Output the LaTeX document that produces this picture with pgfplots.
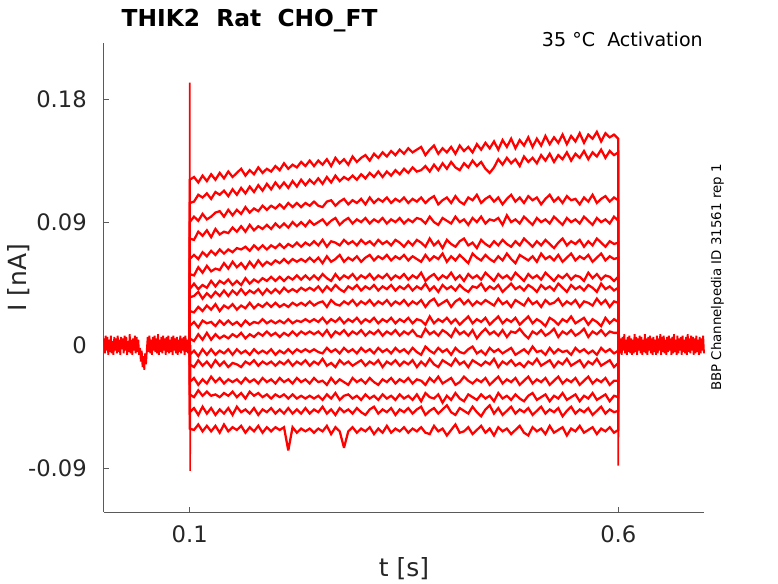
\documentclass[border=0pt]{standalone}
\usepackage{pgfplots}
\pgfplotsset{compat=1.18}
\usepackage{pgfplotstable}
\usepackage{fontspec}
\setmainfont{DejaVu Sans}
\definecolor{axgray}{RGB}{90,90,90}
\definecolor{txt}{RGB}{38,38,38}
\tikzset{tr/.style={red, line width=1.7pt, mark=none, line join=miter, miter limit=3}}

\pgfplotstableread{
t c1 c2 c3 c4 c5 c6 c7 c8 c9 c10 c11 c12 c13 c14 c15 c16 c17
100 0 0 0 0 0 0 0 0 0 0 0 0 0 0 0 0 0
100 121 104 90 78 63 52 41 35 25 14 5 -7 -14 -27 -36 -49 -61
105 123 105 94 77 66 51 45 36 24 17 3 -4 -16 -24 -38 -46 -62
110 119 110 91 83 63 57 41 39 28 13 8 -8 -11 -29 -33 -51 -58
115 124 108 96 80 68 53 44 34 25 18 4 -3 -15 -25 -37 -45 -63
120 120 111 92 84 65 58 42 38 29 16 9 -7 -12 -28 -34 -50 -59
125 125 107 94 79 69 54 47 35 26 17 4 -3 -16 -23 -37 -46 -63
130 121 112 97 85 66 56 43 39 30 14 8 -7 -11 -27 -36 -51 -59
135 126 110 98 81 70 55 47 36 25 18 5 -4 -15 -24 -38 -47 -64
140 122 113 94 83 67 60 45 40 29 15 7 -6 -12 -28 -35 -50 -58
145 127 109 99 82 70 56 48 36 27 18 5 -3 -16 -25 -37 -46 -63
150 123 114 95 86 68 61 44 40 30 15 8 -7 -13 -27 -34 -51 -60
155 126 110 99 83 71 57 47 37 26 17 6 -3 -14 -25 -38 -45 -62
160 129 115 96 87 70 60 44 41 29 14 9 -6 -16 -28 -35 -49 -59
165 124 111 101 83 72 56 49 37 27 18 5 -4 -12 -24 -39 -47 -64
170 128 116 97 88 69 61 45 40 31 15 8 -7 -14 -27 -34 -50 -60
175 125 112 100 84 73 57 48 38 27 17 6 -3 -11 -25 -37 -46 -63
180 130 117 98 87 70 62 46 41 30 16 9 -6 -15 -28 -35 -51 -59
185 126 113 102 85 73 58 49 37 28 19 7 -4 -12 -24 -38 -47 -64
190 129 118 99 88 70 61 47 41 31 16 10 -6 -14 -27 -36 -49 -60
195 127 114 102 85 73 59 50 38 28 18 7 -3 -12 -25 -39 -46 -63
200 131 119 100 89 71 62 47 41 31 16 9 -7 -15 -28 -36 -50 -60
205 128 115 103 86 74 60 50 38 28 18 6 -4 -12 -24 -38 -47 -62
210 133 119 100 89 71 63 47 42 30 16 9 -6 -14 -27 -36 -50 -60
215 129 115 104 86 74 60 50 39 28 19 7 -3 -11 -25 -39 -46 -77
220 132 120 101 90 72 63 48 41 31 16 10 -6 -15 -28 -36 -50 -60
225 130 116 104 87 75 61 51 39 29 18 7 -3 -12 -24 -39 -47 -64
230 134 121 101 90 72 63 48 42 31 17 10 -5 -14 -27 -37 -50 -61
235 131 117 104 87 75 61 51 40 29 19 8 -3 -11 -25 -39 -46 -63
240 135 121 102 91 73 64 48 42 32 17 10 -5 -15 -28 -37 -50 -61
245 131 118 105 88 76 61 51 40 29 19 8 -3 -12 -24 -39 -47 -64
250 135 122 102 90 73 64 48 43 31 17 10 -5 -14 -27 -37 -49 -61
255 132 118 101 92 77 60 52 39 32 20 7 -6 -10 -26 -40 -45 -63
260 136 123 105 88 72 65 49 43 28 16 11 -2 -15 -29 -36 -50 -59
265 131 119 106 91 76 61 47 40 33 19 6 -5 -13 -24 -39 -47 -65
270 137 124 102 93 75 63 52 44 30 17 10 -3 -16 -28 -35 -51 -60
275 133 120 105 88 73 66 48 41 29 20 8 -6 -11 -25 -40 -46 -63
280 136 123 107 91 77 61 51 39 32 16 11 -2 -14 -27 -37 -49 -75
285 132 121 103 93 74 64 49 43 30 19 7 -5 -12 -29 -36 -47 -63
290 138 124 106 89 76 62 52 41 33 17 10 -3 -15 -24 -39 -50 -60
295 134 121 104 92 73 65 48 44 29 20 8 -6 -13 -27 -37 -46 -64
300 137 125 107 90 77 61 51 40 32 16 11 -2 -11 -25 -40 -49 -61
305 139 122 103 93 74 64 49 43 30 19 7 -5 -15 -28 -36 -51 -63
310 135 126 108 89 76 66 52 41 33 17 10 -3 -12 -24 -39 -47 -60
315 140 123 104 92 73 62 48 44 29 20 8 -6 -14 -27 -37 -45 -65
320 137 127 107 90 77 65 51 40 32 16 11 -2 -11 -29 -40 -50 -61
325 141 123 105 93 74 63 49 43 30 19 7 -5 -16 -25 -36 -47 -64
330 138 127 108 89 76 66 52 41 33 17 10 -3 -12 -27 -39 -49 -59
335 142 124 104 92 73 62 48 44 29 20 8 -6 -14 -24 -37 -46 -64
340 139 128 107 90 77 65 51 40 32 16 11 -2 -11 -28 -40 -51 -61
345 143 125 105 93 75 63 49 43 30 19 7 -5 -15 -25 -36 -47 -63
350 140 129 108 89 72 66 52 41 33 17 10 -3 -12 -27 -39 -49 -60
355 144 126 104 92 76 62 48 44 29 20 8 -6 -14 -24 -37 -46 -64
360 141 130 107 90 73 65 51 40 32 16 11 -2 -11 -28 -40 -50 -61
365 143 127 105 93 77 63 49 43 30 19 7 -5 -16 -25 -36 -47 -63
370 145 128 108 92 75 61 53 41 33 18 6 -7 -12 -26 -41 -45 -60
375 139 131 104 89 72 66 47 45 28 15 12 -1 -15 -29 -35 -51 -64
380 143 127 107 94 78 62 50 40 32 21 8 -4 -10 -24 -38 -48 -65
385 146 132 109 90 73 65 52 43 34 16 10 -6 -14 -27 -39 -46 -59
390 140 128 103 88 76 63 48 39 29 19 7 -2 -16 -23 -36 -50 -63
395 144 133 106 93 71 67 51 44 31 17 11 -5 -11 -28 -42 -47 -61
400 141 129 108 91 77 61 49 41 33 20 9 -3 -13 -26 -37 -44 -66
405 145 134 104 89 74 65 53 43 28 16 6 -7 -15 -24 -40 -49 -62
410 140 130 109 94 72 62 48 40 32 19 12 -2 -10 -29 -35 -51 -58
415 146 128 105 90 76 66 51 44 34 15 8 -5 -14 -27 -39 -46 -64
420 142 133 103 92 78 63 47 41 30 18 10 -6 -12 -23 -41 -48 -63
425 145 130 108 88 73 60 52 39 33 21 7 -3 -16 -26 -36 -50 -60
430 141 135 106 93 75 67 49 43 29 16 11 -1 -11 -28 -38 -45 -65
435 147 131 110 90 71 64 51 42 32 19 5 -6 -13 -25 -40 -49 -62
440 143 134 104 94 77 62 48 45 30 17 9 -4 -15 -27 -36 -52 -59
445 148 129 107 89 74 66 53 40 33 20 12 -7 -12 -24 -39 -47 -64
450 144 126 109 92 72 63 50 43 31 15 8 -2 -14 -29 -37 -44 -61
455 149 130 105 91 76 61 47 41 29 18 10 -5 -10 -26 -41 -50 -66
460 143 136 108 93 73 65 52 44 34 21 7 -3 -16 -23 -35 -46 -60
465 150 132 103 88 77 62 49 39 30 16 11 -6 -12 -28 -39 -51 -63
470 145 137 107 95 74 67 51 42 32 19 6 -4 -14 -25 -37 -48 -61
475 151 133 110 90 72 63 48 45 28 17 10 -2 -11 -27 -40 -45 -65
480 144 136 105 92 76 60 53 41 33 20 9 -7 -15 -24 -36 -50 -62
485 150 131 108 89 73 66 50 43 31 15 12 -5 -13 -29 -39 -47 -59
490 146 138 104 94 78 64 47 40 29 18 8 -3 -16 -26 -41 -49 -64
495 152 134 109 91 75 62 52 44 34 21 5 -6 -12 -23 -37 -46 -66
500 145 137 106 88 72 65 49 42 30 16 10 -1 -14 -28 -35 -51 -60
505 151 133 108 93 76 61 51 39 32 19 8 -5 -10 -25 -40 -48 -63
510 146 139 103 90 73 67 48 44 28 17 11 -4 -15 -27 -38 -45 -61
515 153 135 107 92 77 63 53 41 33 14 7 -7 -13 -24 -36 -50 -65
520 147 140 110 89 74 65 50 43 30 20 9 -2 -11 -29 -41 -47 -59
525 152 134 105 94 71 62 47 40 31 18 12 -6 -16 -26 -37 -49 -64
530 148 139 108 91 75 66 51 45 34 15 6 -3 -12 -23 -39 -46 -62
535 154 136 104 88 78 61 49 42 29 19 10 -5 -14 -28 -35 -52 -60
540 147 141 109 93 73 64 52 39 32 17 8 -4 -10 -25 -40 -48 -66
545 153 135 106 90 76 67 48 44 30 21 11 -7 -15 -27 -38 -45 -61
550 149 140 107 92 74 62 51 41 33 16 7 -2 -13 -24 -36 -50 -63
555 155 137 103 89 77 65 50 43 28 18 9 -5 -11 -29 -41 -47 -59
560 148 142 108 94 72 63 47 40 32 20 12 -3 -16 -26 -37 -49 -64
565 154 136 105 91 76 66 53 44 31 15 6 -6 -12 -23 -39 -46 -62
570 151 141 110 88 73 61 49 42 29 19 10 -4 -14 -28 -35 -51 -60
575 156 138 104 93 78 64 52 39 34 17 8 -7 -10 -25 -40 -48 -65
580 149 143 107 90 75 67 48 45 30 14 11 -2 -15 -27 -38 -45 -61
585 155 137 109 92 72 62 51 41 33 20 7 -5 -13 -24 -36 -50 -63
590 152 142 105 89 76 65 50 43 28 16 10 -3 -11 -29 -41 -47 -60
595 154 139 108 94 74 63 47 40 32 19 9 -6 -16 -26 -37 -49 -64
600 151 141 106 91 75 64 50 42 31 17 9 -4 -13 -26 -38 -48 -62
600 0 0 0 0 0 0 0 0 0 0 0 0 0 0 0 0 0
}\traces

\pgfplotstableread{
t y
0 5
1 -6
2 7
3 -4
4 6
5 -7
6 4
7 -5
8 7
9 -6
10 3
11 -7
12 6
13 -4
14 5
15 -6
16 7
17 -5
18 4
19 -7
20 6
21 -3
22 5
23 -6
24 7
25 -4
26 6
27 -7
28 3
29 -5
30 8
31 -6
32 4
33 -7
34 5
35 -4
36 7
37 -6
38 6
39 -5
40 4
41 -7
42 -2
43 -12
44 -4
45 -16
46 -8
47 -18
48 -6
49 -14
50 -3
51 6
52 -5
53 7
54 -6
55 4
56 -7
57 6
58 -4
59 7
60 -5
61 5
62 -6
63 8
64 -7
65 4
66 -5
67 6
68 -6
69 7
70 -4
71 5
72 -7
73 6
74 -5
75 7
76 -6
77 4
78 -5
79 6
80 -7
81 7
82 -4
83 5
84 -6
85 6
86 -7
87 4
88 -5
89 7
90 -6
91 5
92 -4
93 6
94 -7
95 7
96 -5
97 4
98 -6
99 5
100 0
}\pre

\pgfplotstableread{
t y
600 0
601 7
602 -6
603 5
604 -7
605 6
606 -4
607 8
608 -6
609 4
610 -7
611 6
612 -5
613 7
614 -6
615 5
616 -7
617 4
618 -6
619 8
620 -5
621 6
622 -7
623 5
624 -4
625 7
626 -6
627 6
628 -7
629 4
630 -5
631 8
632 -6
633 5
634 -7
635 6
636 -4
637 7
638 -6
639 5
640 -7
641 6
642 -5
643 4
644 -7
645 7
646 -6
647 5
648 -4
649 8
650 -7
651 6
652 -5
653 7
654 -6
655 4
656 -7
657 6
658 -5
659 7
660 -4
661 5
662 -7
663 6
664 -6
665 8
666 -5
667 4
668 -7
669 7
670 -6
671 5
672 -4
673 6
674 -7
675 7
676 -5
677 4
678 -6
679 6
680 -7
681 8
682 -5
683 5
684 -6
685 7
686 -4
687 6
688 -7
689 5
690 -6
691 7
692 -5
693 4
694 -7
695 6
696 -6
697 5
698 -4
699 7
700 -6
}\post

\begin{document}
\begin{tikzpicture}
\begin{axis}[
  name=ax,
  at={(0,0)}, anchor=south west,
  scale only axis,
  width=450pt, height=351.75pt,
  xmin=0, xmax=700, ymin=-122, ymax=221,
  axis x line=bottom, axis y line=left,
  axis line style={-, draw=axgray, line width=0.75pt},
  tick align=inside,
  major tick length=4pt,
  tick style={draw=axgray, line width=0.75pt},
  xtick={100,600}, xticklabels={0.1,0.6},
  ytick={-90,0,90,180}, yticklabels={-0.09,0,0.09,0.18},
  minor tick num=0,
  ticklabel style={font=\fontsize{17}{20}\selectfont, text=txt},
  xticklabel style={anchor=north, inner sep=0pt, yshift=-9.75pt},
  yticklabel style={anchor=east, inner sep=0pt, xshift=-12.75pt},
  clip=false,
]
\addplot[tr, line width=1.4pt] table[x=t, y=y] {\pre};
\addplot[tr, line width=1.4pt] table[x=t, y=y] {\post};
\addplot[tr] table[x=t, y=c1] {\traces};
\addplot[tr] table[x=t, y=c2] {\traces};
\addplot[tr] table[x=t, y=c3] {\traces};
\addplot[tr] table[x=t, y=c4] {\traces};
\addplot[tr] table[x=t, y=c5] {\traces};
\addplot[tr] table[x=t, y=c6] {\traces};
\addplot[tr] table[x=t, y=c7] {\traces};
\addplot[tr] table[x=t, y=c8] {\traces};
\addplot[tr] table[x=t, y=c9] {\traces};
\addplot[tr] table[x=t, y=c10] {\traces};
\addplot[tr] table[x=t, y=c11] {\traces};
\addplot[tr] table[x=t, y=c12] {\traces};
\addplot[tr] table[x=t, y=c13] {\traces};
\addplot[tr] table[x=t, y=c14] {\traces};
\addplot[tr] table[x=t, y=c15] {\traces};
\addplot[tr] table[x=t, y=c16] {\traces};
\addplot[tr] table[x=t, y=c17] {\traces};
\addplot[tr, line width=1.2pt] coordinates {(100,0) (100,192) (100.5,-92) (101,0)};
\addplot[tr, line width=1.2pt] coordinates {(600,0) (600,-88) (600.8,0)};
\end{axis}
\node[anchor=base west, font=\fontsize{17.5}{20}\selectfont\bfseries]
  at ([xshift=9.75pt, yshift=12pt]ax.north west) {THIK2\ \ Rat\ \ CHO\_FT};
\node[anchor=base east, inner sep=0pt, font=\fontsize{14.3}{17}\selectfont, text=black]
  at ([xshift=-0.75pt, yshift=-3pt]ax.north east) {35 °C\ \ Activation};
\node[anchor=base, inner sep=0pt, rotate=90, font=\fontsize{10}{12}\selectfont, text=black]
  at ([xshift=12.75pt]ax.east) {BBP Channelpedia ID 31561 rep 1};
\node[anchor=base, inner sep=0pt, rotate=90, font=\fontsize{18.75}{22}\selectfont, text=txt]
  at ([xshift=-57.75pt]ax.west) {I [nA]};
\node[anchor=base, inner sep=0pt, font=\fontsize{18.75}{22}\selectfont, text=txt]
  at ([yshift=-48pt]ax.south) {t [s]};
\pgfresetboundingbox
\path[use as bounding box] (-78pt,-53.25pt) rectangle (505.5pt,384pt);
\end{tikzpicture}
\end{document}
